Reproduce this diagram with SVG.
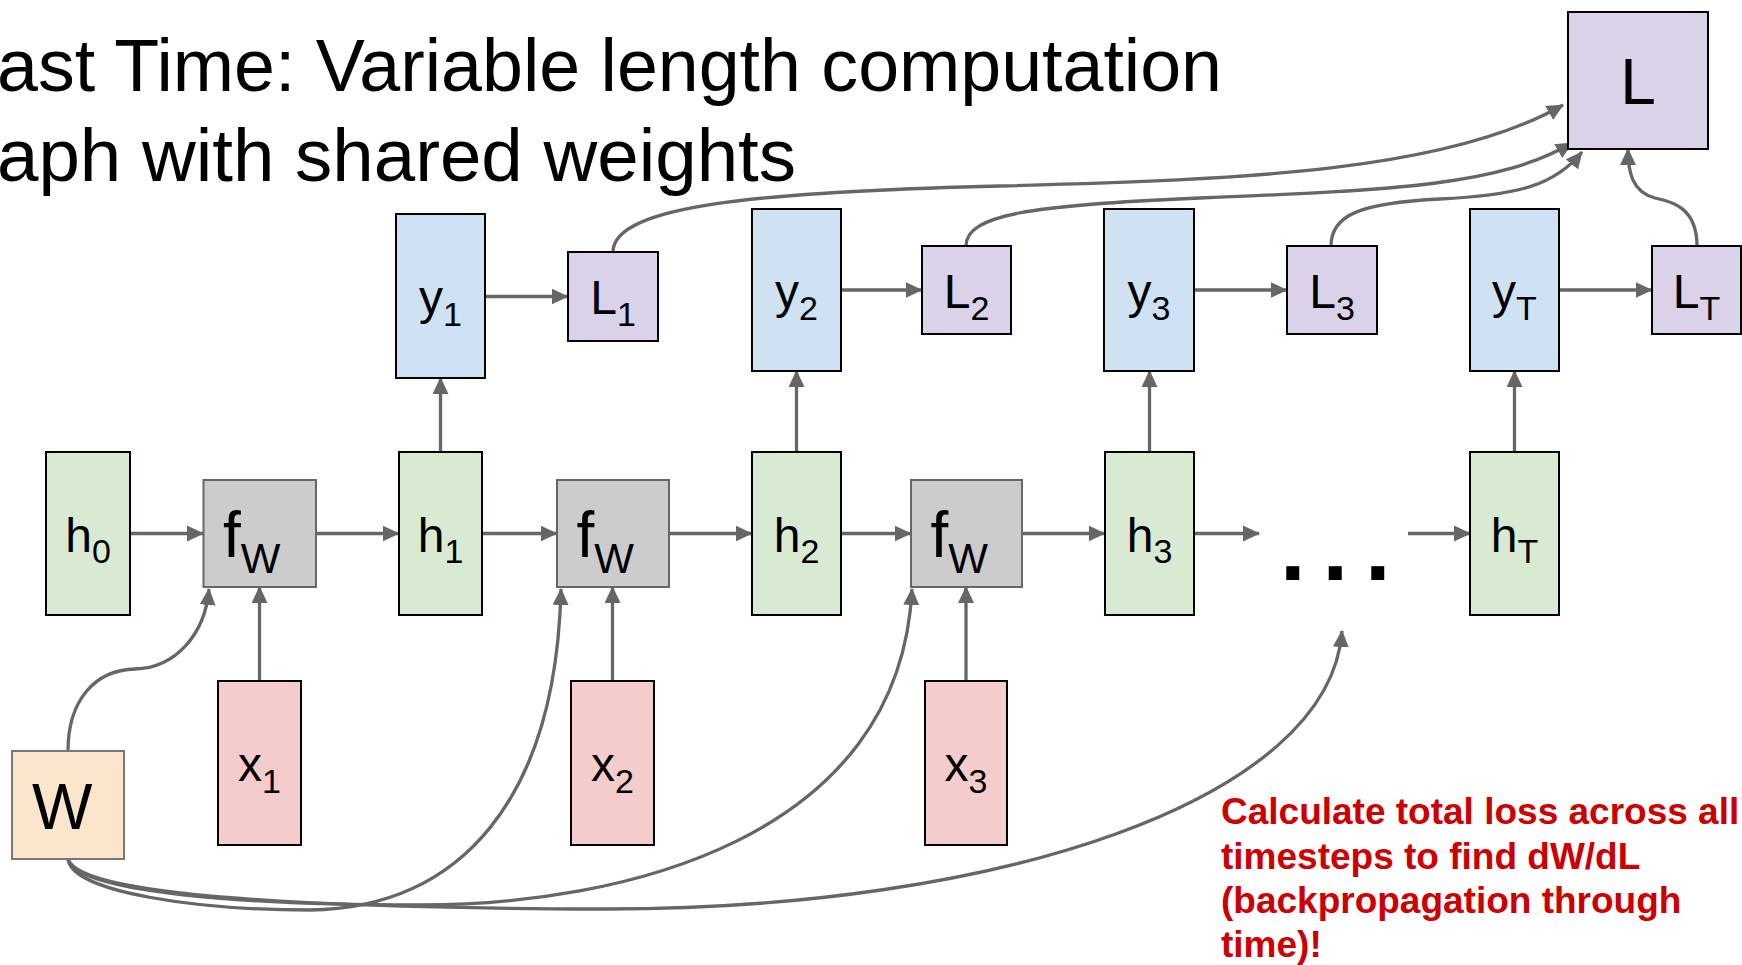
<svg xmlns="http://www.w3.org/2000/svg" width="1742" height="965" viewBox="0 0 1742 965">
<style>
.box{stroke:#000;stroke-width:2}
.h{fill:#d9ead3}.y{fill:#cfe2f3}.l{fill:#d9d2e9}.x{fill:#f4cccc}
.f{fill:#cccccc;stroke:#666;stroke-width:2}
.w{fill:#fce5cd;stroke:#777;stroke-width:2}
.lbl{font-family:"Liberation Sans",Arial,sans-serif;font-size:48px;fill:#000;text-anchor:middle}
.sub{font-size:34px}
.fl{font-family:"Liberation Sans",Arial,sans-serif;font-size:64px;fill:#000}
.fsub{font-size:42px}
.title{font-family:"Liberation Sans",Arial,sans-serif;font-size:74px;fill:#000}
.note{font-family:"Liberation Sans",Arial,sans-serif;font-size:37px;font-weight:bold;fill:#cc0000}
.c{fill:none;stroke:#666;stroke-width:3.3}
.a{marker-end:url(#arr)}
</style>
<defs>
<marker id="arr" markerUnits="userSpaceOnUse" markerWidth="17" markerHeight="16" refX="16" refY="8" orient="auto">
<path d="M0,0 L17,8 L0,16 z" fill="#666"/>
</marker>
</defs>

<text class="title" x="-3" y="91" textLength="1225" lengthAdjust="spacingAndGlyphs">ast Time: Variable length computation</text>
<text class="title" x="-3" y="181" textLength="799" lengthAdjust="spacingAndGlyphs">aph with shared weights</text>

<g id="connectors">
<path class="c a" d="M129.5,533.5 H203"/>
<path class="c a" d="M316,533.5 H398.5"/>
<path class="c a" d="M482,533.5 H556.5"/>
<path class="c a" d="M669,533.5 H751.5"/>
<path class="c a" d="M841,533.5 H910.5"/>
<path class="c a" d="M1022,533.5 H1104.5"/>
<path class="c a" d="M1194,533.5 H1259"/>
<path class="c a" d="M1408,533.5 H1470"/>
<path class="c a" d="M259.5,681 V587"/>
<path class="c a" d="M612.5,681 V587"/>
<path class="c a" d="M966,681 V587"/>
<path class="c a" d="M440.5,452 V378"/>
<path class="c a" d="M796.5,452 V371"/>
<path class="c a" d="M1149.5,452 V371"/>
<path class="c a" d="M1514.5,452 V371"/>
<path class="c a" d="M485,296.5 H567.5"/>
<path class="c a" d="M841,290 H921.5"/>
<path class="c a" d="M1194,290 H1286.5"/>
<path class="c a" d="M1559,290 H1651.5"/>
<path class="c a" d="M613,252 C613,205 760,192 1000,186 C1250,180 1450,170 1563,105"/>
<path class="c a" d="M966,246 C966,215 1030,205 1200,198 C1400,190 1500,185 1572,143"/>
<path class="c a" d="M1331,246 C1331,215 1360,203 1440,199 C1520,195 1555,185 1582,152"/>
<path class="c a" d="M1697,246 C1697,205 1668,201 1655,198 C1632,192 1628,172 1628,149"/>
<path class="c a" d="M68,751 C68,700 95,670 135,669 C175,668 205,635 209,589"/>
<path class="c a" d="M68,859 C72,893 200,910 310,910 C460,908 556,800 561,589"/>
<path class="c a" d="M68,859 C75,893 250,905 420,905 C620,905 900,840 912,589"/>
<path class="c a" d="M68,859 C80,895 300,908 600,909 C1000,910 1330,800 1342,631"/>
</g>

<g id="node-h0"><rect class="box h" x="46" y="452" width="84" height="163"/><text class="lbl" x="88" y="551.5">h<tspan class="sub" dy="11.5">0</tspan></text></g>
<g id="node-h1"><rect class="box h" x="399" y="452" width="83" height="163"/><text class="lbl" x="440.5" y="551.5">h<tspan class="sub" dy="11.5">1</tspan></text></g>
<g id="node-h2"><rect class="box h" x="752" y="452" width="89" height="163"/><text class="lbl" x="796.5" y="551.5">h<tspan class="sub" dy="11.5">2</tspan></text></g>
<g id="node-h3"><rect class="box h" x="1105" y="452" width="89" height="163"/><text class="lbl" x="1149.5" y="551.5">h<tspan class="sub" dy="11.5">3</tspan></text></g>
<g id="node-hT"><rect class="box h" x="1470" y="452" width="89" height="163"/><text class="lbl" x="1514.5" y="551.5">h<tspan class="sub" dy="11.5">T</tspan></text></g>

<g id="node-f1"><rect class="f" x="203.5" y="480" width="112.5" height="107"/><text class="fl" x="223" y="557">f<tspan class="fsub" dy="16">W</tspan></text></g>
<g id="node-f2"><rect class="f" x="557" y="480" width="112" height="107"/><text class="fl" x="576.5" y="557">f<tspan class="fsub" dy="16">W</tspan></text></g>
<g id="node-f3"><rect class="f" x="911" y="480" width="111" height="107"/><text class="fl" x="930.5" y="557">f<tspan class="fsub" dy="16">W</tspan></text></g>

<g id="node-x1"><rect class="box x" x="218" y="681" width="83" height="164"/><text class="lbl" x="259.5" y="781">x<tspan class="sub" dy="11.5">1</tspan></text></g>
<g id="node-x2"><rect class="box x" x="571" y="681" width="83" height="164"/><text class="lbl" x="612.5" y="781">x<tspan class="sub" dy="11.5">2</tspan></text></g>
<g id="node-x3"><rect class="box x" x="925" y="681" width="82" height="164"/><text class="lbl" x="966" y="781">x<tspan class="sub" dy="11.5">3</tspan></text></g>

<g id="node-y1"><rect class="box y" x="396" y="214" width="89" height="164"/><text class="lbl" x="440.5" y="314">y<tspan class="sub" dy="11.5">1</tspan></text></g>
<g id="node-y2"><rect class="box y" x="752" y="209" width="89" height="162"/><text class="lbl" x="796.5" y="308">y<tspan class="sub" dy="11.5">2</tspan></text></g>
<g id="node-y3"><rect class="box y" x="1104" y="209" width="90" height="162"/><text class="lbl" x="1149" y="308">y<tspan class="sub" dy="11.5">3</tspan></text></g>
<g id="node-yT"><rect class="box y" x="1470" y="209" width="89" height="162"/><text class="lbl" x="1514.5" y="308">y<tspan class="sub" dy="11.5">T</tspan></text></g>

<g id="node-L1"><rect class="box l" x="568" y="252" width="90" height="89"/><text class="lbl" x="613" y="314">L<tspan class="sub" dy="11.5">1</tspan></text></g>
<g id="node-L2"><rect class="box l" x="922" y="246" width="89" height="88"/><text class="lbl" x="966.5" y="308">L<tspan class="sub" dy="11.5">2</tspan></text></g>
<g id="node-L3"><rect class="box l" x="1287" y="246" width="90" height="88"/><text class="lbl" x="1332" y="308">L<tspan class="sub" dy="11.5">3</tspan></text></g>
<g id="node-LT"><rect class="box l" x="1652" y="246" width="89" height="88"/><text class="lbl" x="1696.5" y="308">L<tspan class="sub" dy="11.5">T</tspan></text></g>

<g id="node-L"><rect class="box l" x="1568" y="12" width="140" height="137"/><text class="fl" x="1638" y="104" text-anchor="middle">L</text></g>

<g id="node-W"><rect class="w" x="12" y="751" width="112" height="108"/><text class="fl" x="32" y="829">W</text></g>

<g id="node-dots"><text x="1280" y="580" font-family="Liberation Sans, Arial, sans-serif" font-size="92" font-weight="bold" letter-spacing="17" fill="#000">...</text></g>

<g id="note">
<text class="note" x="1221" y="824">Calculate total loss across all</text>
<text class="note" x="1221" y="868.5">timesteps to find dW/dL</text>
<text class="note" x="1221" y="913">(backpropagation through</text>
<text class="note" x="1221" y="957">time)!</text>
</g>
</svg>
